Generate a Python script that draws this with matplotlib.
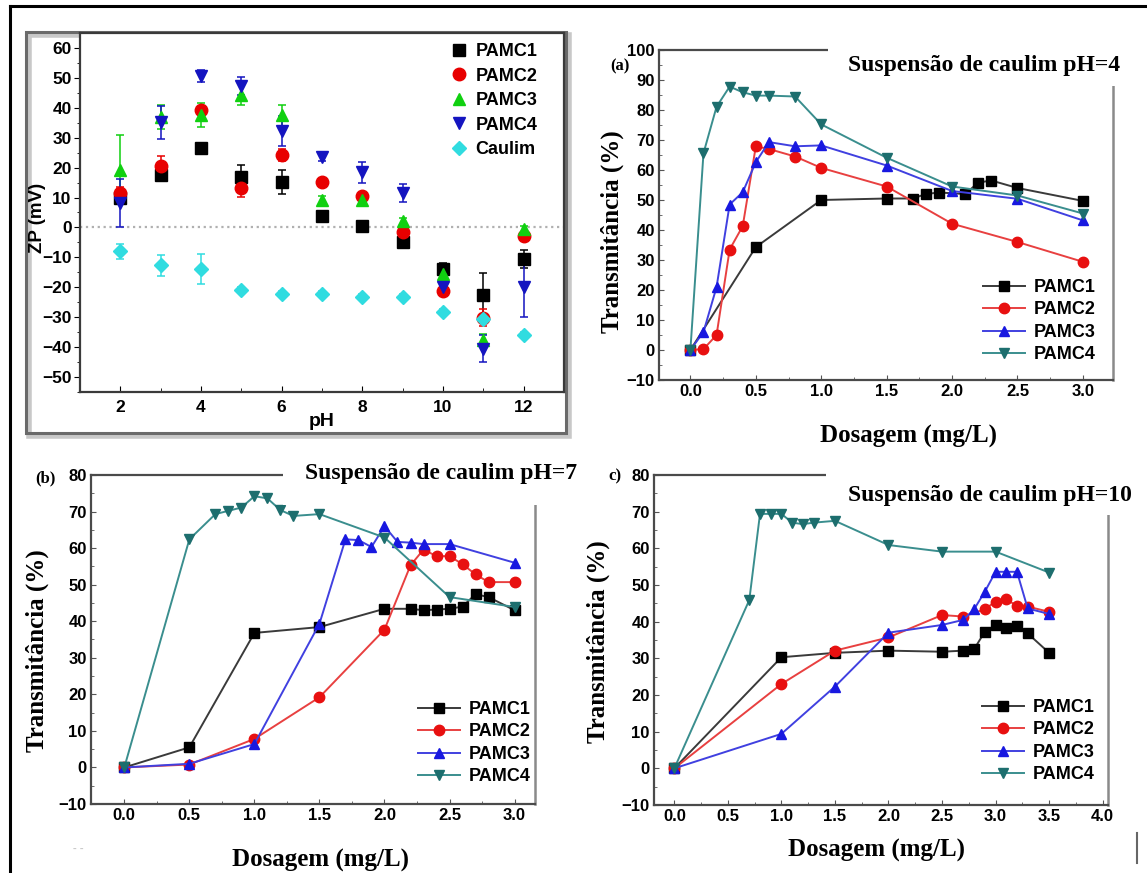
import matplotlib
matplotlib.use("Agg")
import matplotlib.pyplot as plt
from matplotlib.lines import Line2D
from matplotlib.patches import Rectangle

W, H = 1147, 873

# ── zeta potential vs pH ───────────────────────────────────────────
ph = [2, 3, 4, 5, 6, 7, 8, 9, 10, 11, 12]
zp_pamc1 = [10.0, 17.4, 26.6, 16.9, 15.2, 3.7, 0.4, -4.8, -13.8, -22.6, -10.4]
zp_pamc1_err = [2, 1, 1.5, 4, 4, 1, 1, 1, 2, 7.5, 3]
zp_pamc2 = [11.5, 20.4, 39.1, 13.2, 24.1, 15.2, 10.4, -1.5, -21.3, -30.1, -3.0]
zp_pamc2_err = [2, 3.5, 1, 3, 2, 1, 1, 1, 1, 3, 1]
zp_pamc3 = [19.3, 36.9, 37.5, 44.4, 37.5, 9.1, 9.3, 2.2, -15.5, -37.5, -0.4]
zp_pamc3_err = [11.5, 4, 4, 3.5, 3.5, 1.5, 1.5, 1, 2, 2, 1]
zp_pamc4 = [8.3, 35.2, 50.5, 47.2, 32.1, 23.6, 18.5, 11.5, -19.9, -40.5, -19.9]
zp_pamc4_err = [8, 5.5, 2, 3, 5, 1.5, 3.5, 3, 2, 4.5, 10]
zp_caulim = [-7.9, -12.6, -13.8, -20.8, -22.4, -22.4, -23.1, -23.1, -28.3, -30.5, -35.8]
zp_caulim_err = [2.5, 3.5, 5, 1, 1, 1, 1, 1, 1, 1, 1]

# ── transmittance vs dosage, pH=4 ──────────────────────────────────
dose_a1 = [0, 0.5, 1.0, 1.5, 1.7, 1.8, 1.9, 2.1, 2.2, 2.3, 2.5, 3.0]
t_a1 = [0, 34.3, 50.0, 50.5, 50.5, 52.0, 52.5, 52.0, 55.8, 56.5, 54.0, 49.7]
dose_a2 = [0, 0.1, 0.2, 0.3, 0.4, 0.5, 0.6, 0.8, 1.0, 1.5, 2.0, 2.5, 3.0]
t_a2 = [0, 0.3, 5.0, 33.5, 41.3, 67.9, 67.0, 64.5, 60.7, 54.5, 42.1, 36.0, 29.4]
dose_a3 = [0, 0.1, 0.2, 0.3, 0.4, 0.5, 0.6, 0.8, 1.0, 1.5, 2.0, 2.5, 3.0]
t_a3 = [0, 6.0, 21.0, 48.5, 52.6, 62.6, 69.3, 67.9, 68.2, 61.5, 53.0, 50.4, 43.2]
dose_a4 = [0, 0.1, 0.2, 0.3, 0.4, 0.5, 0.6, 0.8, 1.0, 1.5, 2.0, 2.5, 3.0]
t_a4 = [0, 65.6, 81.1, 87.8, 85.9, 84.8, 84.8, 84.5, 75.2, 64.1, 54.5, 51.5, 45.5]

# ── pH=7 ───────────────────────────────────────────────────────────
dose_b1 = [0, 0.5, 1.0, 1.5, 2.0, 2.2, 2.3, 2.4, 2.5, 2.6, 2.7, 2.8, 3.0]
t_b1 = [0, 5.5, 36.8, 38.4, 43.4, 43.4, 43.0, 43.2, 43.4, 44.0, 47.4, 46.6, 43.0]
dose_b2 = [0, 0.5, 1.0, 1.5, 2.0, 2.2, 2.3, 2.4, 2.5, 2.6, 2.7, 2.8, 3.0]
t_b2 = [0, 0.8, 7.8, 19.2, 37.7, 55.3, 59.6, 57.8, 57.8, 55.6, 52.8, 50.7, 50.7]
dose_b3 = [0, 0.5, 1.0, 1.5, 1.7, 1.8, 1.9, 2.0, 2.1, 2.2, 2.3, 2.5, 3.0]
t_b3 = [0, 1.0, 6.4, 39.3, 62.4, 62.2, 60.3, 66.0, 61.7, 61.5, 61.1, 61.1, 56.0]
dose_b4 = [0, 0.5, 0.7, 0.8, 0.9, 1.0, 1.1, 1.2, 1.3, 1.5, 2.0, 2.5, 3.0]
t_b4 = [0, 62.4, 69.3, 70.2, 71.1, 74.2, 73.6, 70.4, 68.8, 69.3, 62.9, 46.6, 43.9]

# ── pH=10 ──────────────────────────────────────────────────────────
dose_c1 = [0, 1.0, 1.5, 2.0, 2.5, 2.7, 2.8, 2.9, 3.0, 3.1, 3.2, 3.3, 3.5]
t_c1 = [0, 30.3, 31.5, 32.1, 31.8, 32.1, 32.5, 37.3, 39.1, 38.4, 38.8, 36.8, 31.5]
dose_c2 = [0, 1.0, 1.5, 2.0, 2.5, 2.7, 2.9, 3.0, 3.1, 3.2, 3.3, 3.5]
t_c2 = [0, 23.0, 32.1, 35.7, 41.8, 41.4, 43.4, 45.5, 46.1, 44.3, 44.1, 42.7]
dose_c3 = [0, 1.0, 1.5, 2.0, 2.5, 2.7, 2.8, 2.9, 3.0, 3.1, 3.2, 3.3, 3.5]
t_c3 = [0, 9.4, 22.3, 37.0, 39.1, 40.5, 43.4, 48.2, 53.6, 53.6, 53.6, 43.6, 42.1]
dose_c4 = [0, 0.7, 0.8, 0.9, 1.0, 1.1, 1.2, 1.3, 1.5, 2.0, 2.5, 3.0, 3.5]
t_c4 = [0, 45.9, 69.4, 69.4, 69.4, 67.0, 66.6, 67.0, 67.5, 60.9, 59.1, 59.1, 53.4]

LABELS = ["PAMC1", "PAMC2", "PAMC3", "PAMC4"]
DOSE_STYLE = [  # (marker, marker colour, line colour)
    ("s", "black", "#3a3a3a"),
    ("o", "#e81010", "#e84040"),
    ("^", "#1818e0", "#4040e0"),
    ("v", "#1d6e6e", "#3a8e8e"),
]

plt.rcParams["font.family"] = ["Liberation Sans", "DejaVu Sans"]
plt.rcParams["font.weight"] = "bold"
SERIF = ["Liberation Serif", "DejaVu Serif"]

fig = plt.figure(figsize=(W / 100, H / 100), dpi=100)


def px_rect(l, t, r, b):
    return [l / W, 1 - b / H, (r - l) / W, (b - t) / H]


def px(x, y):
    return x / W, 1 - y / H


def mask(l, t, r, b):
    fig.add_artist(Rectangle((l / W, 1 - b / H), (r - l) / W, (b - t) / H,
                             transform=fig.transFigure, facecolor="white",
                             edgecolor="none", zorder=5))


# outer frame
fig.add_artist(Line2D([10 / W, 10 / W], [0, 1 - 6 / H], transform=fig.transFigure,
                      color="black", lw=2.2))
fig.add_artist(Line2D([10 / W, 1], [1 - 6 / H, 1 - 6 / H], transform=fig.transFigure,
                      color="black", lw=2.2))
fig.add_artist(Line2D([1137 / W, 1137 / W], [1 - 863 / H, 1 - 833 / H],
                      transform=fig.transFigure, color="#666666", lw=1.5))

# ZP box with soft shadow
fig.add_artist(Rectangle(px(29, 436), 540 / W, 401 / H, transform=fig.transFigure,
                         facecolor="none", edgecolor="#c8c8c8", lw=4, zorder=-2))
fig.add_artist(Rectangle(px(26, 433), 540 / W, 401 / H, transform=fig.transFigure,
                         facecolor="none", edgecolor="#6a6a6a", lw=2.2, zorder=-1))

ax = fig.add_axes(px_rect(80, 33, 564, 392))
ax.axhline(0, color="#b0b0b0", ls=":", lw=1.6, zorder=0)
zp_series = [
    (zp_pamc1, zp_pamc1_err, "s", "black", 8, "PAMC1"),
    (zp_pamc2, zp_pamc2_err, "o", "#e80000", 9, "PAMC2"),
    (zp_pamc3, zp_pamc3_err, "^", "#10d010", 9, "PAMC3"),
    (zp_pamc4, zp_pamc4_err, "v", "#1414c0", 9, "PAMC4"),
    (zp_caulim, zp_caulim_err, "D", "#30dce0", 7, "Caulim"),
]
for vals, err, mk, col, ms, lab in zp_series:
    ax.errorbar(ph, vals, yerr=err, fmt=mk, color=col, ms=ms, mec=col,
                ecolor=col, elinewidth=1.1, capsize=3, capthick=1.1, label=lab)
ax.set_xlim(1, 13)
ax.set_ylim(-55, 65)
ax.set_xticks(range(2, 13, 2))
ax.set_xticks(range(3, 13, 2), minor=True)
ax.set_yticks(range(-50, 61, 10))
ax.set_yticks(range(-55, 65, 10), minor=True)
ax.tick_params(axis="y", which="both", direction="out", labelsize=12.5, pad=2)
ax.tick_params(axis="y", which="major", length=4)
ax.tick_params(axis="y", which="minor", length=2.5)
ax.tick_params(axis="x", which="both", direction="in", labelsize=12.5, pad=6)
ax.tick_params(axis="x", which="major", length=4)
ax.tick_params(axis="x", which="minor", length=3)
for s in ax.spines.values():
    s.set_color("#3a3a3a")
    s.set_linewidth(1.6)
fig.text(*px(37, 218), "ZP (mV)", rotation=90, ha="center", va="center",
         fontsize=13.5, fontweight="bold")
fig.text(*px(322, 421), "pH", ha="center", va="center", fontsize=14,
         fontweight="bold")
handles, labels = ax.get_legend_handles_labels()
ax.legend([h[0] for h in handles], labels, loc="upper left",
          bbox_to_anchor=px(450, 43), bbox_transform=fig.transFigure,
          frameon=False, prop={"size": 13, "weight": "bold"}, handlelength=1.0,
          handletextpad=0.4, labelspacing=0.42, borderpad=0, borderaxespad=0)


def dose_panel(rect, ymax, xlim, xmax_tick, series, title, title_xy, mask_box,
               tag, tag_xy, ylab_xy, xlab_xy, leg_xy):
    a = fig.add_axes(px_rect(*rect))
    lines = []
    for (xs, ys), (mk, mc, lc) in zip(series, DOSE_STYLE):
        ln, = a.plot(xs, ys, color=lc, lw=1.4, marker=mk, ms=7.5, mfc=mc, mec=mc)
        lines.append(ln)
    a.set_xlim(*xlim)
    a.set_ylim(-10, ymax)
    ticks = [i * 0.5 for i in range(int(xmax_tick * 2) + 1)]
    a.set_xticks(ticks)
    a.set_xticklabels([f"{t:.1f}" for t in ticks])
    a.set_xticks([t + 0.25 for t in ticks[:-1]], minor=True)
    a.set_yticks(range(-10, ymax + 1, 10))
    a.set_yticks(range(-5, ymax, 10), minor=True)
    a.tick_params(which="both", direction="in", labelsize=12, color="#555555")
    a.tick_params(which="major", length=3.5, pad=3)
    a.tick_params(which="minor", length=2)
    for side in ["left", "bottom", "top"]:
        a.spines[side].set_color("#4a4a4a")
        a.spines[side].set_linewidth(1.6)
    a.spines["right"].set_color("#8a8a8a")
    a.spines["right"].set_linewidth(1.8)
    mask(*mask_box)
    fig.text(*px(*title_xy), title, ha="center", va="center", fontsize=17,
             fontweight="bold", family=SERIF, zorder=6)
    fig.text(*px(*tag_xy), tag, ha="center", va="center", fontsize=12,
             fontweight="bold", family=SERIF)
    fig.text(*px(*ylab_xy), "Transmitância (%)", rotation=90, ha="center",
             va="center", fontsize=18, fontweight="bold", family=SERIF)
    fig.text(*px(*xlab_xy), "Dosagem (mg/L)", ha="center", va="center",
             fontsize=18, fontweight="bold", family=SERIF)
    a.legend(lines, LABELS, loc="upper left", bbox_to_anchor=px(*leg_xy),
             bbox_transform=fig.transFigure, frameon=False,
             prop={"size": 13, "weight": "bold"}, handlelength=2.3,
             handletextpad=0.5, labelspacing=0.3, borderpad=0, borderaxespad=0)
    return a


dose_panel((659, 50, 1113, 380), 100, (-0.24, 3.23), 3.0,
           [(dose_a1, t_a1), (dose_a2, t_a2), (dose_a3, t_a3), (dose_a4, t_a4)],
           "Suspensão de caulim pH=4", (984, 65), (828, 38, 1125, 86),
           "(a)", (620, 66), (612, 232), (909, 436), (983, 279))
dose_panel((91, 475, 535, 804), 80, (-0.256, 3.157), 3.0,
           [(dose_b1, t_b1), (dose_b2, t_b2), (dose_b3, t_b3), (dose_b4, t_b4)],
           "Suspensão de caulim pH=7", (441, 474), (283, 462, 545, 505),
           "(b)", (45, 478), (37, 651), (321, 860), (418, 701))
dose_panel((654, 475, 1108, 805), 80, (-0.19, 4.05), 4.0,
           [(dose_c1, t_c1), (dose_c2, t_c2), (dose_c3, t_c3), (dose_c4, t_c4)],
           "Suspensão de caulim pH=10", (990, 495), (826, 462, 1120, 515),
           "c)", (615, 476), (598, 642), (877, 850), (982, 699))

fig.text(*px(78, 848), "- -", ha="center", va="center", fontsize=8,
         color="#c8c8c8")

fig.savefig("out.png", dpi=100, facecolor="white")
